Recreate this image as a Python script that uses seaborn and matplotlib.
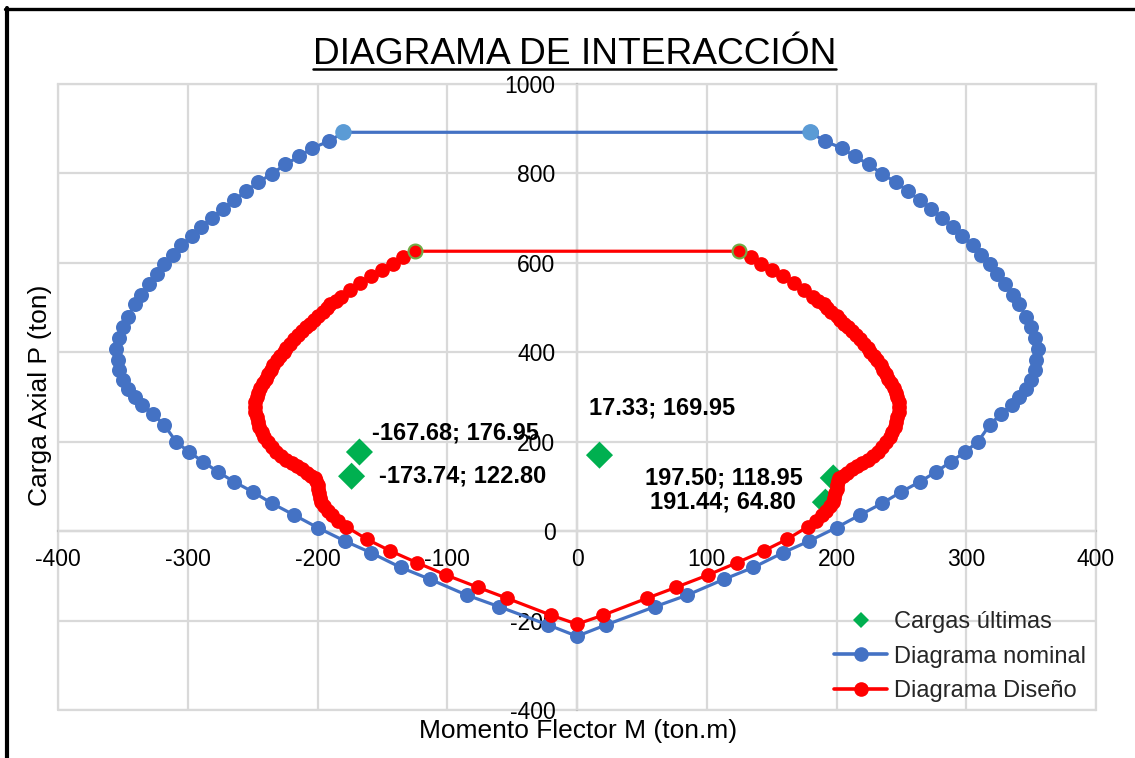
import matplotlib
matplotlib.use("Agg")
import matplotlib.pyplot as plt
from matplotlib.lines import Line2D
import seaborn as sns

# ---------------------------------------------------------------------------
# Interaction diagram data (M in ton.m, P in ton)
# ---------------------------------------------------------------------------
# Nominal diagram: left branch top -> bottom, right branch bottom -> top,
# then closed with the horizontal cut-off at Pn,max.
nominal_M = [
    -180, -191, -204, -214, -225, -235, -246, -255, -264, -273, -281, -290,
    -297, -305, -311, -318, -324, -330, -336, -341, -346, -350, -353, -355,
    -354, -353, -350, -346, -341, -335, -327, -318, -309, -299, -288, -277,
    -264, -250, -235, -218, -200, -179, -159, -136, -113, -85, -60, -22,
    0,
    22, 60, 85, 113, 136, 159, 179, 200, 218, 235, 250, 264,
    277, 288, 299, 309, 318, 327, 335, 341, 346, 350, 353, 354,
    355, 353, 350, 346, 341, 336, 330, 324, 318, 311, 305, 297,
    290, 281, 273, 264, 255, 246, 235, 225, 214, 204, 191, 180,
    -180,
]
nominal_P = [
    892, 872, 857, 838, 820, 799, 780, 760, 741, 721, 701, 680,
    659, 639, 618, 598, 576, 553, 529, 507, 480, 457, 433, 408,
    382, 360, 337, 319, 300, 282, 263, 237, 200, 177, 155, 133,
    110, 88, 62, 36, 8, -22, -48, -81, -108, -143, -169, -210,
    -235,
    -210, -169, -143, -108, -81, -48, -22, 8, 36, 62, 88, 110,
    133, 155, 177, 200, 237, 263, 282, 300, 319, 337, 360, 382,
    408, 433, 457, 480, 507, 529, 553, 576, 598, 618, 639, 659,
    680, 701, 721, 741, 760, 780, 799, 820, 838, 857, 872, 892,
    892,
]

# Design diagram (phi * nominal), same ordering
design_M = [
    -125, -134, -142, -150, -159, -167, -175, -182, -186, -190, -193, -196,
    -200, -203, -206, -209, -212, -215, -218, -221, -224, -226, -229, -231,
    -234, -236, -238, -240, -242, -244, -246, -247, -248, -248, -248, -247,
    -246, -245, -243, -241, -238, -235, -232, -228, -224, -220, -216, -212,
    -208, -205, -202, -201, -200, -200, -199, -198, -197, -195, -192, -189,
    -184, -178, -162, -144, -123, -101, -76, -54, -20,
    0,
    20, 54, 76, 101, 123, 144, 162, 178, 184,
    189, 192, 195, 197, 198, 199, 200, 200, 201, 202, 205, 208,
    212, 216, 220, 224, 228, 232, 235, 238, 241, 243, 245, 246,
    247, 248, 248, 248, 247, 246, 244, 242, 240, 238, 236, 234,
    231, 229, 226, 224, 221, 218, 215, 212, 209, 206, 203, 200,
    196, 193, 190, 186, 182, 175, 167, 159, 150, 142, 134, 125,
    -125,
]
design_P = [
    626, 613, 598, 583, 570, 555, 540, 524, 515, 507, 498, 490,
    481, 473, 464, 456, 447, 438, 429, 419, 410, 401, 391, 382,
    371, 361, 351, 341, 331, 321, 310, 300, 289, 278, 266, 255,
    244, 233, 222, 211, 199, 188, 178, 168, 160, 152, 145, 138,
    131, 124, 118, 112, 103, 95, 85, 75, 65, 56, 46, 36,
    23, 10, -18, -44, -71, -98, -126, -150, -188,
    -208,
    -188, -150, -126, -98, -71, -44, -18, 10, 23,
    36, 46, 56, 65, 75, 85, 95, 103, 112, 118, 124, 131,
    138, 145, 152, 160, 168, 178, 188, 199, 211, 222, 233, 244,
    255, 266, 278, 289, 300, 310, 321, 331, 341, 351, 361, 371,
    382, 391, 401, 410, 419, 429, 438, 447, 456, 464, 473, 481,
    490, 498, 507, 515, 524, 540, 555, 570, 583, 598, 613, 626,
    626,
]

# Factored load combinations
cargas_M = [-167.68, -173.74, 17.33, 197.50, 191.44]
cargas_P = [176.95, 122.80, 169.95, 118.95, 64.80]

x_ticks = list(range(-400, 401, 100))
y_ticks = list(range(-400, 1001, 200))

titulo = "DIAGRAMA DE INTERACCIÓN"
x_label = "Momento Flector M (ton.m)"
y_label = "Carga Axial P (ton)"
leyenda = ["Cargas últimas", "Diagrama nominal", "Diagrama Diseño"]

# ---------------------------------------------------------------------------
# Styling
# ---------------------------------------------------------------------------
BLUE = "#4472C4"
BLUE_END = "#5B9BD5"
RED = "#FF0000"
GREEN = "#00B050"
OLIVE = "#70AD47"
GRID = "#d9d9d9"
AXIS = "#bfbfbf"

sns.set_theme(style="white")
plt.rcParams["font.family"] = ["Liberation Sans", "DejaVu Sans"]
plt.rcParams["axes.unicode_minus"] = False

W, H = 1135, 758
fig = plt.figure(figsize=(W / 100, H / 100), dpi=100)
fig.patch.set_facecolor("white")
ax = fig.add_axes([58 / W, 1 - 710 / H, (1096 - 58) / W, (710 - 84) / H])

ax.set_xlim(-400, 400)
ax.set_ylim(-400, 1000)
ax.set_xticks(x_ticks)
ax.set_yticks(y_ticks)
ax.grid(True, color=GRID, lw=1.6)
ax.set_axisbelow(True)

for side in ("top", "right"):
    ax.spines[side].set_color(GRID)
    ax.spines[side].set_linewidth(1.6)
    ax.spines[side].set_zorder(0.3)
for side in ("left", "bottom"):
    ax.spines[side].set_position("zero")
    ax.spines[side].set_color(AXIS)
    ax.spines[side].set_linewidth(1.6)
    ax.spines[side].set_zorder(0.4)
ax.axvline(-400, color=GRID, lw=1.6, clip_on=False, zorder=0.3)
ax.axhline(-400, color=GRID, lw=1.6, clip_on=False, zorder=0.3)

ax.tick_params(axis="both", length=0, labelsize=16.5, labelcolor="black")
ax.tick_params(axis="y", pad=15.5)
ax.tick_params(axis="x", pad=12)

# ---------------------------------------------------------------------------
# Series
# ---------------------------------------------------------------------------
sns.scatterplot(x=cargas_M, y=cargas_P, marker="D", s=190, color=GREEN,
                edgecolor="none", linewidth=0, ax=ax, zorder=3, legend=False)

sns.lineplot(x=nominal_M, y=nominal_P, sort=False, estimator=None, color=BLUE,
             lw=2.3, marker="o", markersize=10.8, markeredgewidth=0,
             ax=ax, zorder=4, legend=False)
# end points of the Pn,max cut-off
sns.scatterplot(x=[nominal_M[0], nominal_M[-2]], y=[nominal_P[0], nominal_P[-2]],
                s=140, color=BLUE_END, edgecolor="none", linewidth=0,
                ax=ax, zorder=4.1, legend=False)

sns.lineplot(x=design_M, y=design_P, sort=False, estimator=None, color=RED,
             lw=2.3, marker="o", markersize=10.6, markeredgewidth=0,
             ax=ax, zorder=5, legend=False)
sns.scatterplot(x=[design_M[0], design_M[-2]], y=[design_P[0], design_P[-2]],
                s=100, color=RED, edgecolor=OLIVE, linewidth=1.5,
                ax=ax, zorder=5.1, legend=False)

ax.set_xlabel("")
ax.set_ylabel("")

# data labels "M; P"
label_offsets = [(13, 19, "left"), (27, 0, "left"), (-10, 47, "left"),
                 (-31, 0, "right"), (-30, 0, "right")]
for m, p, (dx, dy, ha) in zip(cargas_M, cargas_P, label_offsets):
    ax.annotate(f"{m:.2f}; {p:.2f}", xy=(m, p), xytext=(dx, dy),
                textcoords="offset pixels", ha=ha, va="center",
                fontsize=17, fontweight="bold", color="black", zorder=6)

# ---------------------------------------------------------------------------
# Titles, labels, legend, frame
# ---------------------------------------------------------------------------
title = fig.text(574.5 / W, 1 - 64 / H, titulo, ha="center", va="baseline",
                 fontsize=26.7, color="black")
fig.text(578 / W, 1 - 731 / H, x_label, ha="center", va="center",
         fontsize=19, color="black")
fig.text(40 / W, 1 - 395 / H, y_label, ha="center", va="center",
         rotation=90, fontsize=19, color="black")

handles = [
    Line2D([], [], ls="none", marker="D", color=GREEN, markersize=8,
           markeredgewidth=0),
    Line2D([], [], color=BLUE, lw=2.6, marker="o", markersize=10.5,
           markeredgewidth=0),
    Line2D([], [], color=RED, lw=2.6, marker="o", markersize=10.5,
           markeredgewidth=0),
]
fig.legend(handles, leyenda, loc="upper left",
           bbox_to_anchor=(834 / W, 1 - 611 / H), frameon=False, fontsize=17,
           handlelength=2.25, handletextpad=0.3, labelspacing=0.53,
           borderpad=0, borderaxespad=0)

# underline the title
fig.canvas.draw()
bb = title.get_window_extent(fig.canvas.get_renderer())
fig.add_artist(Line2D([bb.x0 / W, bb.x1 / W], [1 - 69 / H, 1 - 69 / H],
                      transform=fig.transFigure, color="black", lw=1.8))

# outer chart border (top and left edges)
fig.add_artist(Line2D([5 / W, 1], [1 - 9 / H, 1 - 9 / H],
                      transform=fig.transFigure, color="black", lw=2.4))
fig.add_artist(Line2D([7 / W, 7 / W], [0, 1 - 8 / H],
                      transform=fig.transFigure, color="black", lw=3.0))

fig.savefig("out.png", dpi=100)
